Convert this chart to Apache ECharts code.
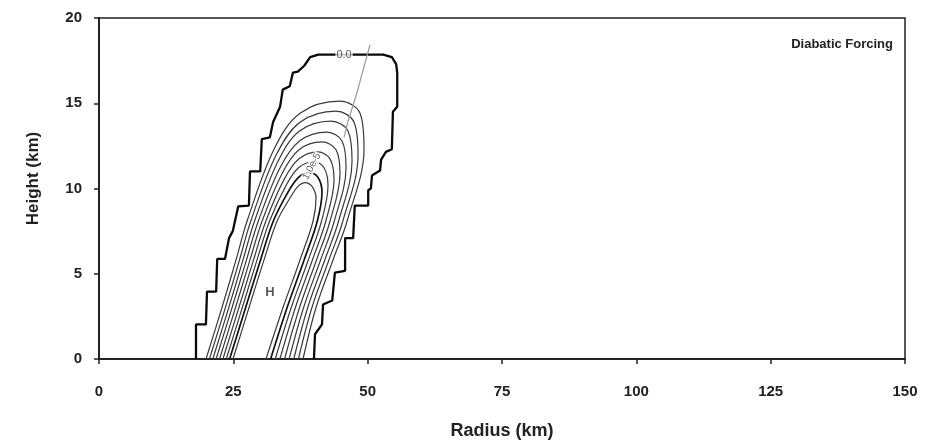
<!DOCTYPE html>
<html>
<head>
<meta charset="utf-8">
<script src="https://cdn.jsdelivr.net/npm/echarts@6/dist/echarts.min.js"></script>
<style>html,body{margin:0;padding:0;background:#fff;}#c{width:931px;height:445px;}</style>
</head>
<body>
<div id="c"></div>
<script>
// Axis ticks
const xTicks = [0, 25, 50, 75, 100, 125, 150];
const yTicks = [0, 5, 10, 15, 20];

// Zero contour (0.0) – staircase outline, [radius km, height km]
const zeroContour = [[18.05,0],[18.05,2.03],[19.9,2.03],[20.1,3.95],[21.8,3.95],[22.0,5.87],[23.45,5.87],[24.2,7.09],[24.9,7.5],[25.9,8.95],[27.9,9.0],[28.1,11.0],[30.0,11.0],[30.3,12.9],[31.8,13.0],[32.4,13.9],[33.7,14.8],[34.2,15.8],[35.5,16.0],[36.1,16.8],[37.0,16.86],[38.2,17.2],[39.3,17.7],[40.8,17.85],[52.9,17.85],[54.5,17.7],[55.3,17.3],[55.5,16.8],[55.5,14.8],[54.7,14.5],[54.5,12.3],[53.4,12.15],[52.5,11.7],[52.3,11.05],[50.8,10.76],[50.6,10.0],[50.1,9.9],[50.1,9.0],[47.6,9.0],[47.3,7.09],[45.8,7.09],[45.8,5.17],[43.9,5.06],[43.4,3.43],[41.7,3.2],[41.5,2.03],[40.2,1.45],[40.0,0]];

// Positive contours, outermost to innermost
const contour1 = [[19.92,0],[22.89,3.02],[25.50,5.81],[27.55,8.08],[32.57,12.30],[37.41,14.41],[44.86,15.12],[48.58,14.41],[49.32,12.30],[46.16,8.08],[43.55,5.81],[40.39,3.02],[37.97,0]];
const contour2 = [[20.55,0],[23.53,3.02],[26.15,5.81],[28.24,8.08],[32.94,11.95],[37.41,13.89],[44.11,14.54],[47.46,13.89],[48.21,11.95],[45.37,8.08],[42.79,5.81],[39.63,3.02],[37.11,0]];
const contour3 = [[21.18,0],[24.16,3.02],[26.80,5.81],[28.94,8.08],[33.32,11.60],[37.32,13.37],[43.18,13.95],[46.34,13.37],[47.09,11.60],[44.58,8.08],[42.02,5.81],[38.85,3.02],[36.25,0]];
const contour4 = [[21.79,0],[24.77,3.02],[27.45,5.81],[29.64,8.08],[33.69,11.22],[37.32,12.79],[42.44,13.31],[45.23,12.79],[45.97,11.22],[43.78,8.08],[41.24,5.81],[38.08,3.02],[35.38,0]];
const contour5 = [[22.43,0],[25.41,3.02],[28.10,5.81],[30.34,8.08],[34.06,10.87],[37.22,12.27],[41.50,12.73],[44.11,12.27],[44.85,10.87],[42.99,8.08],[40.48,5.81],[37.32,3.02],[34.53,0]];
const contour6 = [[23.06,0],[26.04,3.02],[28.76,5.81],[31.04,8.08],[34.43,10.52],[37.22,11.74],[40.76,12.15],[42.99,11.74],[43.74,10.52],[42.20,8.08],[39.72,5.81],[36.55,3.02],[33.67,0]];
const contour7 = [[23.69,0],[26.67,3.02],[29.41,5.81],[31.73,8.08],[34.80,10.17],[37.13,11.22],[40.02,11.57],[41.88,11.22],[42.62,10.17],[41.41,8.08],[38.95,5.81],[35.78,3.02],[32.80,0]];
const contour8 = [[24.31,0],[27.29,3.02],[30.06,5.81],[32.43,8.08],[35.18,9.79],[37.13,10.65],[39.09,10.93],[40.76,10.65],[41.50,9.79],[40.62,8.08],[38.17,5.81],[35.01,3.02],[31.94,0]];
const contour9 = [[24.94,0],[27.92,3.02],[30.71,5.81],[33.13,8.08],[35.55,9.44],[37.04,10.12],[38.34,10.35],[39.64,10.12],[40.39,9.44],[39.83,8.08],[37.41,5.81],[34.25,3.02],[31.08,0]];

// Grey axis line through the forcing maximum
const tiltLine = [[50.44,18.43],[47.9,15.5],[46.3,13.9],[45.6,13.0]];

// Text annotations
const labelTexts = ['0.0', '1.0e-5', 'H'];
const labelPositions = [[45.6,17.85],[39.6,11.3],[31.83,3.9]];

const chart = echarts.init(document.getElementById('c'), null, {renderer:'canvas'});

const innerList = [contour1,contour2,contour3,contour4,contour5,contour6,contour7,contour8,contour9];
const series = [];
series.push({type:'line', data: zeroContour, showSymbol:false, symbol:'none', lineStyle:{color:'#0a0a0a', width:2.3}, z:3, animation:false});
innerList.forEach((c, i) => {
  series.push({type:'line', data: c, showSymbol:false, symbol:'none', smooth:0.35,
    lineStyle:{color: i===7 ? '#111' : '#3a3a3a', width: i===7 ? 1.7 : 1.2}, z:2, animation:false});
});
series.push({type:'line', data: tiltLine, showSymbol:false, symbol:'none', lineStyle:{color:'#9a9a9a', width:1.2}, z:4, animation:false});
series.push({type:'scatter', symbolSize:1, itemStyle:{color:'rgba(0,0,0,0)'}, z:6, animation:false,
  data: labelPositions.map((p,i)=>({value:p, name:labelTexts[i],
    label:{show:true, position:'inside', formatter: labelTexts[i],
      fontFamily:'Liberation Sans, Arial, sans-serif',
      fontSize: i===2 ? 13 : (i===0 ? 11 : 10), color: '#333', fontWeight: i===2 ? 'bold' : 'normal',
      backgroundColor: i===2 ? 'transparent' : '#fff', padding: i===2 ? 0 : [0,1],
      rotate: i===1 ? 62 : 0}}))
});

const font = 'Liberation Sans, Arial, sans-serif';
chart.setOption({
  backgroundColor:'#fff',
  animation:false,
  title:{text:'Diabatic Forcing', right:33, top:33, textStyle:{fontFamily:font, fontSize:13, fontWeight:'bold', color:'#222'}},
  grid:{left:99, right:26, top:18, bottom:83, show:true, borderColor:'#222', borderWidth:1.5, backgroundColor:'transparent'},
  xAxis:{type:'value', min:xTicks[0], max:xTicks[xTicks.length-1], interval:25,
    name:'Radius (km)', nameLocation:'middle', nameGap:63,
    nameTextStyle:{fontFamily:font, fontSize:18, fontWeight:'bold', color:'#222'},
    axisLine:{show:true, lineStyle:{color:'#222', width:2}},
    axisTick:{show:true, length:5, lineStyle:{color:'#222', width:1.5}},
    axisLabel:{fontFamily:font, fontSize:15, fontWeight:'bold', color:'#222', margin:25},
    splitLine:{show:false}},
  yAxis:{type:'value', min:yTicks[0], max:yTicks[yTicks.length-1], interval:5,
    name:'Height (km)', nameLocation:'middle', nameGap:57, nameRotate:90,
    nameTextStyle:{fontFamily:font, fontSize:17, fontWeight:'bold', color:'#222', padding:[0,0,0,20]},
    axisLine:{show:true, lineStyle:{color:'#222', width:2}},
    axisTick:{show:true, length:5, lineStyle:{color:'#222', width:1.5}},
    axisLabel:{fontFamily:font, fontSize:15, fontWeight:'bold', color:'#222', margin:17},
    splitLine:{show:false}},
  series: series
});
</script>
</body>
</html>
